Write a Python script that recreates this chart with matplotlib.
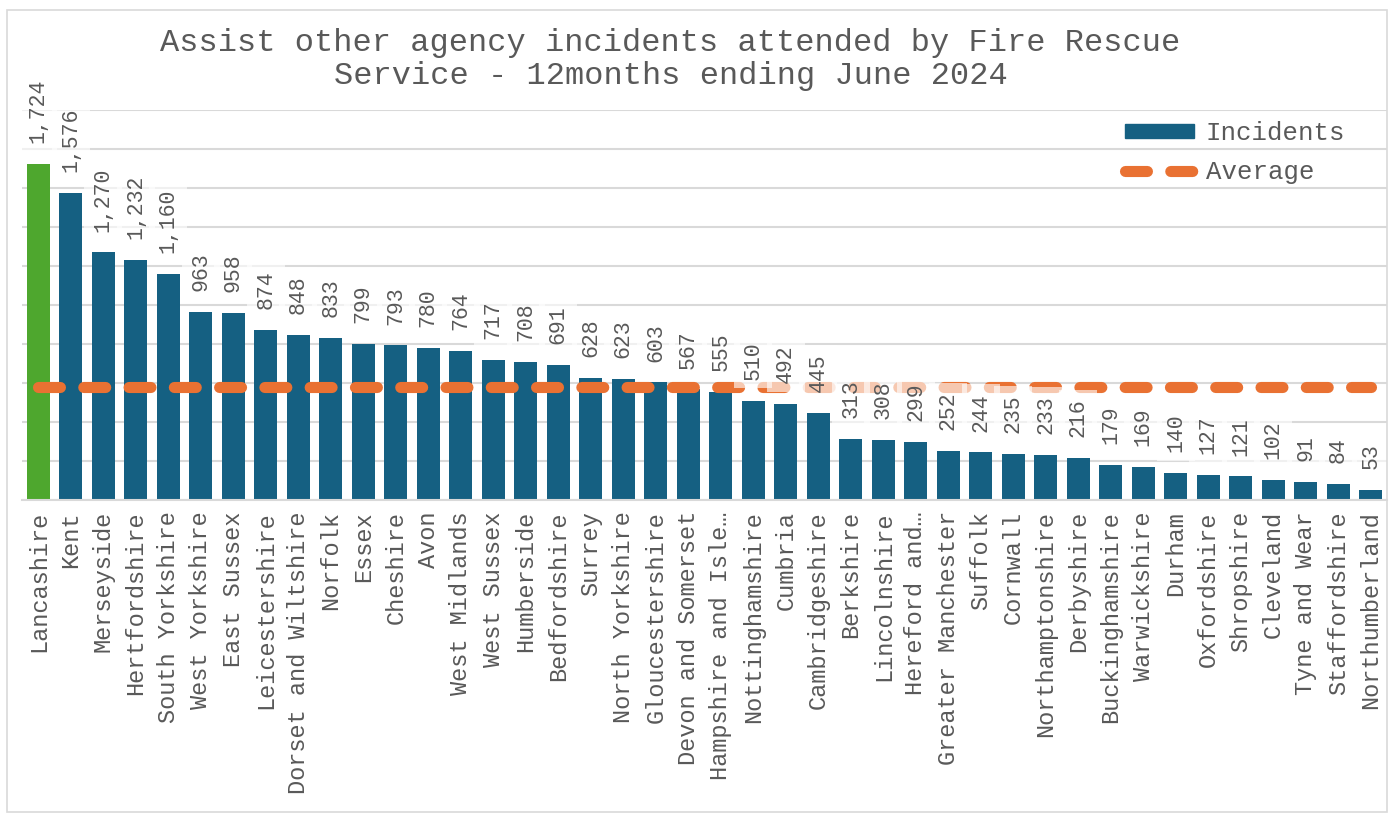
import matplotlib.pyplot as plt
import numpy as np
from matplotlib.lines import Line2D
from matplotlib.patches import Patch, Rectangle

plt.rcParams['font.family'] = ['Liberation Mono', 'DejaVu Sans Mono']
plt.rcParams['lines.scale_dashes'] = False

# data
areas = ["Lancashire", "Kent", "Merseyside", "Hertfordshire", "South Yorkshire",
         "West Yorkshire", "East Sussex", "Leicestershire", "Dorset and Wiltshire",
         "Norfolk", "Essex", "Cheshire", "Avon", "West Midlands", "West Sussex",
         "Humberside", "Bedfordshire", "Surrey", "North Yorkshire", "Gloucestershire",
         "Devon and Somerset", "Hampshire and Isle\u2026", "Nottinghamshire", "Cumbria",
         "Cambridgeshire", "Berkshire", "Lincolnshire", "Hereford and\u2026",
         "Greater Manchester", "Suffolk", "Cornwall", "Northamptonshire", "Derbyshire",
         "Buckinghamshire", "Warwickshire", "Durham", "Oxfordshire", "Shropshire",
         "Cleveland", "Tyne and Wear", "Staffordshire", "Northumberland"]
incidents = [1724, 1576, 1270, 1232, 1160, 963, 958, 874, 848, 833, 799, 793, 780,
             764, 717, 708, 691, 628, 623, 603, 567, 555, 510, 492, 445, 313, 308,
             299, 252, 244, 235, 233, 216, 179, 169, 140, 127, 121, 102, 91, 84, 53]
highlight = "Lancashire"

BLUE = '#156082'
GREEN = '#4EA72E'
ORANGE = '#E97132'
TXT = '#595959'
GRID = '#D9D9D9'

avg = np.mean(incidents)
x = np.arange(len(areas))
colors = [GREEN if a == highlight else BLUE for a in areas]

fig = plt.figure(figsize=(13.94, 8.14), dpi=100)
ax = fig.add_axes([0.0158, 0.3857, 0.9792, 0.4792])

ax.bar(x, incidents, width=0.7, color=colors, zorder=2)
ax.plot(x, [avg] * len(x), color=ORANGE, lw=8, dashes=(15.8, 16.8),
        solid_capstyle='round', dash_capstyle='round', zorder=3)

# value labels, half see-through white box like excel
for xi, v in zip(x, incidents):
    ax.annotate(f"{v:,}", (xi, v), xytext=(0, 15), textcoords='offset points',
                rotation=90, ha='center', va='bottom', fontsize=15.5, color=TXT,
                bbox=dict(boxstyle='square,pad=0.4', fc='white', ec='none', alpha=0.62),
                zorder=4)

ax.set_xlim(-0.5, len(x) - 0.5)
ax.set_ylim(0, 2000)
ax.set_yticks(np.arange(0, 2001, 200))
ax.yaxis.grid(True, color=GRID, lw=1.5, zorder=0)
ax.tick_params(axis='y', left=False, labelleft=False)
ax.set_xticks(x)
ax.set_xticklabels(areas, rotation=90, fontsize=17, color=TXT)
ax.tick_params(axis='x', length=0, pad=8)
for s in ['top', 'right', 'left']:
    ax.spines[s].set_visible(False)
ax.spines['bottom'].set_color(GRID)
ax.spines['bottom'].set_linewidth(1.5)

handles = [Patch(color=BLUE), Line2D([], [], color=ORANGE, lw=8, dashes=(15.8, 16.8),
                                     dash_capstyle='round')]
leg = ax.legend(handles, ['Incidents', 'Average'], loc='upper right',
                bbox_to_anchor=(0.9865, 1.031), frameon=False, fontsize=18.5,
                handlelength=2.7, handleheight=0.45, handletextpad=0.45,
                labelspacing=0.6)
for t in leg.get_texts():
    t.set_color(TXT)

fig.text(0.481, 0.927, "Assist other agency incidents attended by Fire Rescue\nService - 12months ending June 2024",
         ha='center', va='center', fontsize=23, color=TXT, linespacing=1.15)

fig.patches.append(Rectangle((0.005, 0.003), 0.99, 0.985, transform=fig.transFigure,
                             fill=False, ec=GRID, lw=1.2))

fig.savefig('out.png', dpi=100)
